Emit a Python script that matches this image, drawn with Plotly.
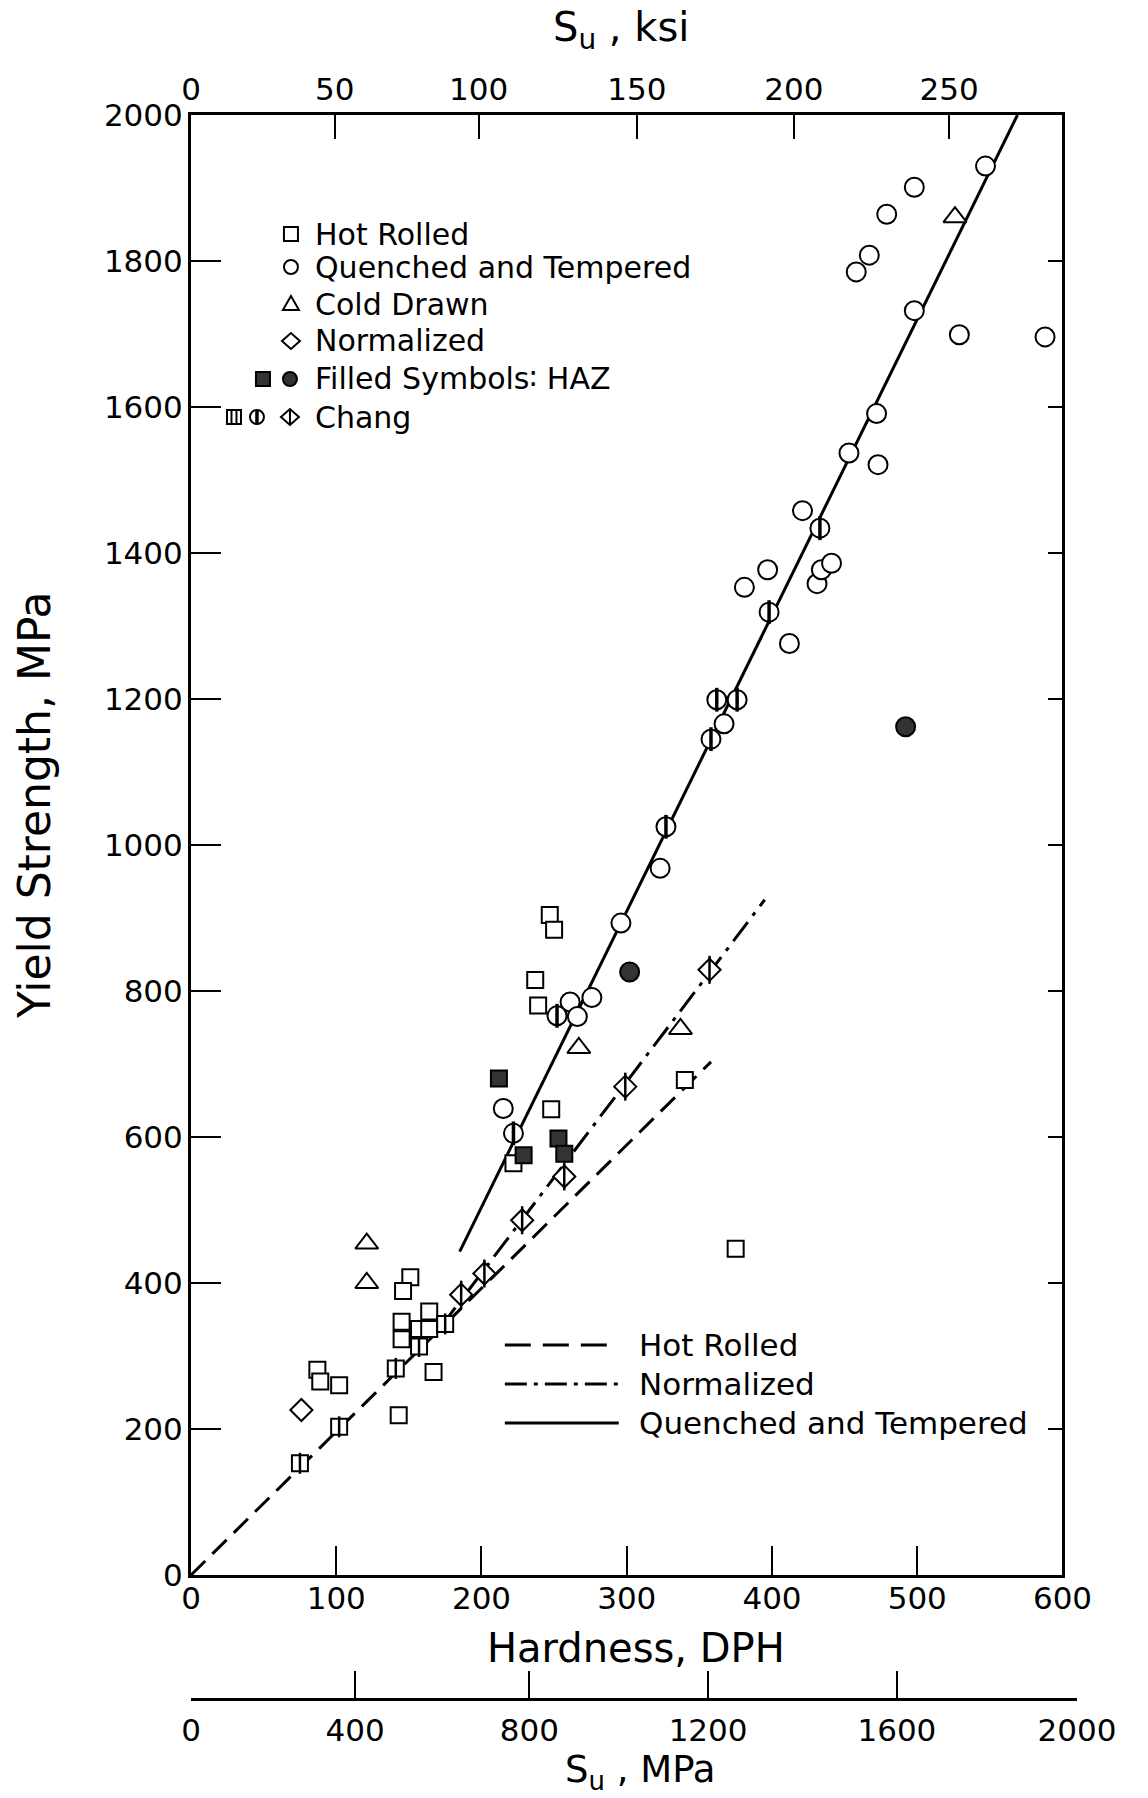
import plotly.graph_objects as go

# ---------------- data (hardness in DPH, yield strength in MPa) ----------------
# Hot rolled (open squares)
hr_dph = [87, 89, 102, 143, 151, 146, 164, 157, 164, 145, 145, 167, 247, 250, 237, 239, 248, 222, 340, 375]
hr_mpa = [281, 265, 260, 219, 408, 389, 361, 337, 337, 347, 323, 278, 904, 884, 815, 780, 638, 564, 678, 447]

# Quenched and tempered (open circles)
qt_dph = [215, 261, 266, 276, 296, 323, 367, 381, 397, 412, 421, 431, 434, 441, 453, 458, 467, 472, 473, 479, 498, 498, 529, 547, 588]
qt_mpa = [639, 785, 765, 791, 893, 968, 1166, 1353, 1377, 1276, 1458, 1358, 1377, 1386, 1537, 1785, 1808, 1591, 1521, 1864, 1901, 1732, 1699, 1930, 1696]

# Cold drawn (open triangles)
cd_dph = [121, 121, 267, 337, 526]
cd_mpa = [454, 400, 722, 748, 1860]

# Normalized (open diamonds)
nm_dph = [76]
nm_mpa = [226]

# Heat affected zone (filled symbols)
haz_sq_dph = [212, 229, 253, 257]
haz_sq_mpa = [680, 575, 598, 577]
haz_ci_dph = [302, 492]
haz_ci_mpa = [826, 1162]

# Chang data (barred symbols)
chang_sq_dph = [75, 102, 141, 157, 175]
chang_sq_mpa = [153, 203, 283, 313, 344]
chang_ci_dph = [222, 252, 327, 358, 362, 376, 398, 433]
chang_ci_mpa = [605, 766, 1025, 1145, 1199, 1199, 1319, 1434]
chang_di_dph = [186, 202, 228, 257, 299, 357]
chang_di_mpa = [384, 413, 486, 546, 669, 829]

# Trend lines
hr_fit_dph = [0, 358]
hr_fit_mpa = [0, 703]
nm_fit_dph = [172, 395]
nm_fit_mpa = [340, 925]
qt_fit_dph = [185, 569]
qt_fit_mpa = [443, 2000]

# Scales
y_ticks = [0, 200, 400, 600, 800, 1000, 1200, 1400, 1600, 1800, 2000]
dph_ticks = [0, 100, 200, 300, 400, 500, 600]
ksi_labels = ["0", "50", "100", "150", "200", "250"]
ksi_at_dph = [0, 99, 198, 307, 415, 522]
su_mpa_labels = ["0", "400", "800", "1200", "1600", "2000"]
su_mpa_at_dph = [0, 113, 233, 356, 486, 610]

# ---------------- page geometry ----------------
W, H = 1148, 1798
ML, MR, MT, MB = 191, 70.5, 115, 100
PW = W - ML - MR
PH = H - MT - MB
X_MAIN = 600
X_LOWER = su_mpa_at_dph[-1]
PLOT_BOTTOM = 1575  # pixel row of the hardness axis


def fx(px):
    return (px - ML) / PW


def fy(py):
    return (H - MB - py) / PH


FONT = "DejaVu Sans"
INK = "black"
HAZ_FILL = "#333333"
CLEAR = "rgba(0,0,0,0)"

fig = go.Figure()


def fit_line(x, y, dash):
    fig.add_trace(go.Scatter(
        x=x, y=y, mode="lines", line=dict(color=INK, width=3, dash=dash),
        hoverinfo="skip", showlegend=False))


def points(x, y, symbol, size, fill="white", width=2.0):
    fig.add_trace(go.Scatter(
        x=x, y=y, mode="markers",
        marker=dict(symbol=symbol, size=size, color=fill,
                    line=dict(color=INK, width=width)),
        hoverinfo="skip", showlegend=False))


fit_line(hr_fit_dph, hr_fit_mpa, "20px,10px")
fit_line(nm_fit_dph, nm_fit_mpa, "24px,8px,4px,8px")
fit_line(qt_fit_dph, qt_fit_mpa, "solid")

points(hr_dph, hr_mpa, "square", 16)
points(qt_dph, qt_mpa, "circle", 19)
points(cd_dph, cd_mpa, "triangle-up", 20)
points(nm_dph, nm_mpa, "diamond", 17)

points(chang_sq_dph, chang_sq_mpa, "square", 16)
points(chang_sq_dph, chang_sq_mpa, "line-ns", 15, width=2.5)
points(chang_ci_dph, chang_ci_mpa, "circle", 19)
points(chang_ci_dph, chang_ci_mpa, "line-ns", 17, width=3.5)
points(chang_di_dph, chang_di_mpa, "diamond", 17)
points(chang_di_dph, chang_di_mpa, "line-ns", 20, width=2.5)

points(haz_sq_dph, haz_sq_mpa, "square", 16, fill=HAZ_FILL)
points(haz_ci_dph, haz_ci_mpa, "circle", 19, fill=HAZ_FILL)

# invisible anchors so the secondary scales are laid out
for xa, ya, xv in (("x2", "y", ksi_at_dph[0]), ("x3", "y3", su_mpa_at_dph[0]),
                   ("x", "y2", dph_ticks[0])):
    fig.add_trace(go.Scatter(x=[xv], y=[y_ticks[0]], xaxis=xa, yaxis=ya, mode="markers",
                             marker=dict(opacity=0), hoverinfo="skip", showlegend=False))

tick_font = dict(family=FONT, size=31, color=INK)
axis_common = dict(showgrid=False, zeroline=False, showline=True, linecolor=INK,
                   linewidth=3, ticks="inside", tickcolor=INK, tickwidth=2,
                   tickfont=tick_font, automargin=False)

y_lo = (H - MB - PLOT_BOTTOM) / PH

fig.update_layout(
    width=W, height=H,
    margin=dict(l=ML, r=MR, t=MT, b=MB, pad=0),
    paper_bgcolor="white", plot_bgcolor=CLEAR,
    font=dict(family=FONT, color=INK),
    showlegend=False,
    xaxis=dict(axis_common, domain=[0, X_MAIN / X_LOWER], range=[0, X_MAIN],
               tickmode="array", tickvals=dph_ticks, ticklen=29,
               ticklabelstandoff=-6, anchor="y"),
    xaxis2=dict(axis_common, overlaying="x", side="top", anchor="y",
                range=[0, X_MAIN], tickmode="array", tickvals=ksi_at_dph,
                ticktext=ksi_labels, ticklen=24, ticklabelstandoff=0),
    # lower S_u (MPa) scale sits on its own thin strip at the bottom
    xaxis3=dict(axis_common, anchor="y3", side="bottom",
                domain=[0, 1], range=[0, X_LOWER], tickmode="array",
                tickvals=su_mpa_at_dph, ticktext=su_mpa_labels, ticklen=27,
                ticklabelstandoff=3),
    yaxis3=dict(domain=[0, 0.004], range=[0, 1], visible=False, anchor="x3"),
    yaxis=dict(axis_common, domain=[y_lo, 1], range=[0, 2000], tickmode="array",
               tickvals=y_ticks, ticklen=30, ticklabelstandoff=-1, anchor="x"),
    yaxis2=dict(axis_common, overlaying="y", side="right", anchor="x",
                range=[0, 2000], tickmode="array", tickvals=y_ticks, ticklen=14,
                showticklabels=False),
)

# ---------------- axis titles ----------------
annotations = [
    dict(text="S<sub>u</sub> , ksi", x=fx(621), y=fy(30), size=40),
    dict(text="Hardness, DPH", x=fx(636), y=fy(1648), size=40),
    dict(text="S<sub>u</sub> , MPa", x=fx(640), y=fy(1772), size=37),
    dict(text="Yield Strength, MPa", x=fx(34), y=fy(805), size=44, textangle=-90),
]
for a in annotations:
    size = a.pop("size")
    a.update(xref="paper", yref="paper", showarrow=False,
             font=dict(family=FONT, size=size, color=INK),
             xanchor="center", yanchor="middle")

# ---------------- symbol key (upper left) ----------------
key_font = dict(family=FONT, size=30, color=INK)
key_rows = [234, 267, 304, 341, 379, 417]
key_text = ["Hot Rolled", "Quenched and Tempered", "Cold Drawn", "Normalized",
            "Filled Symbols\u2236 HAZ", "Chang"]
for row, txt in zip(key_rows, key_text):
    annotations.append(dict(text=txt, x=fx(313), y=fy(row), xref="paper", yref="paper",
                            showarrow=False, font=key_font, xanchor="left",
                            yanchor="middle"))

shapes = []


def key_shape(cx, cy, **kw):
    s = dict(xref="paper", yref="paper", xsizemode="pixel", ysizemode="pixel",
             xanchor=fx(cx), yanchor=fy(cy), layer="above",
             line=dict(color=INK, width=2), fillcolor="white")
    s.update(kw)
    shapes.append(s)


def key_square(cx, cy, r=7, fill="white"):
    key_shape(cx, cy, type="rect", x0=-r, x1=r, y0=-r, y1=r, fillcolor=fill)


def key_circle(cx, cy, r=7, fill="white"):
    key_shape(cx, cy, type="circle", x0=-r, x1=r, y0=-r, y1=r, fillcolor=fill)


def key_path(cx, cy, path, width=2):
    key_shape(cx, cy, type="path", path=path, line=dict(color=INK, width=width))


key_square(291, key_rows[0])
key_circle(291, key_rows[1])
key_path(291, key_rows[2], "M -8 -6 L 8 -6 L 0 8 Z")
key_path(291, key_rows[3], "M -9 0 L 0 8 L 9 0 L 0 -8 Z")
key_square(263, key_rows[4], fill=HAZ_FILL)
key_circle(290, key_rows[4], fill=HAZ_FILL)
key_square(234, key_rows[5])
key_path(234, key_rows[5], "M -2.5 -7 L -2.5 7 M 2.5 -7 L 2.5 7")
key_circle(257, key_rows[5])
key_path(257, key_rows[5], "M 0 -7 L 0 7", width=3.5)
key_path(290, key_rows[5], "M -9 0 L 0 8 L 9 0 L 0 -8 Z")
key_path(290, key_rows[5], "M 0 -8 L 0 8")

# ---------------- line key (lower right) ----------------
line_rows = [1345, 1384, 1423]
line_text = ["Hot Rolled", "Normalized", "Quenched and Tempered"]
line_dash = ["26px,12px", "22px,7px,4px,7px", "solid"]
for row, txt, dash in zip(line_rows, line_text, line_dash):
    shapes.append(dict(type="line", xref="paper", yref="paper", x0=fx(505), x1=fx(619),
                       y0=fy(row), y1=fy(row), layer="above",
                       line=dict(color=INK, width=3, dash=dash)))
    annotations.append(dict(text=txt, x=fx(637), y=fy(row), xref="paper", yref="paper",
                            showarrow=False, font=dict(family=FONT, size=31, color=INK),
                            xanchor="left", yanchor="middle"))

fig.update_layout(annotations=annotations, shapes=shapes)

fig.write_html("out.html")
